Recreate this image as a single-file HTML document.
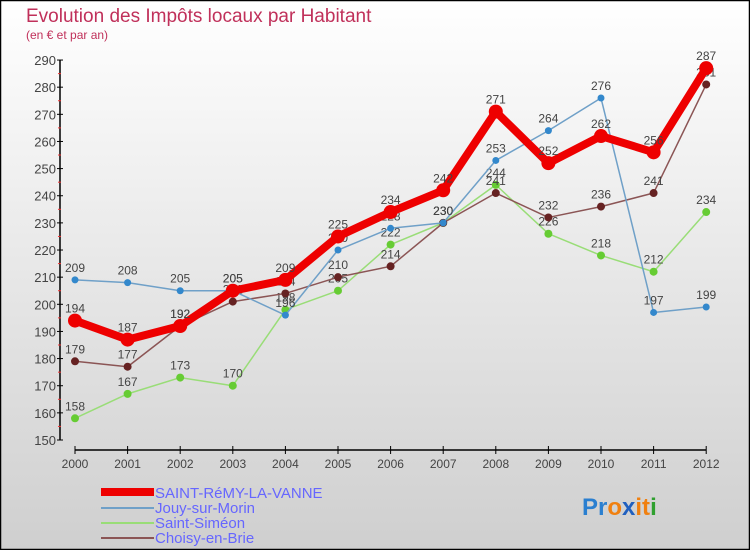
<!DOCTYPE html>
<html><head><meta charset="utf-8"><style>
body{margin:0}
#c{width:750px;height:550px;position:relative;overflow:hidden;font-family:"Liberation Sans",sans-serif}
</style></head><body>
<div id="c">
<svg id="s" width="750" height="550" xmlns="http://www.w3.org/2000/svg">
<defs><linearGradient id="bg" x1="0" y1="0" x2="0" y2="1"><stop offset="0" stop-color="#ffffff"/><stop offset="1" stop-color="#cfcfcf"/></linearGradient></defs>
<rect x="0.5" y="0.5" width="749" height="549" fill="url(#bg)" stroke="#000" stroke-width="1.5"/>
<text x="26" y="22" font-size="19" fill="#c0305a">Evolution des Impôts locaux par Habitant</text>
<text x="26" y="39" font-size="12" fill="#c0305a">(en € et par an)</text>
<g id="axes"></g><g id="series"></g>
<g>
<rect x="101" y="488" width="53" height="8" fill="#e00"/>
<text x="155" y="498" font-size="15" fill="#6666ff">SAINT-RéMY-LA-VANNE</text>
<line x1="101" y1="508" x2="154" y2="508" stroke="#6fa0c8" stroke-width="2"/>
<text x="155" y="513" font-size="15" fill="#6666ff">Jouy-sur-Morin</text>
<line x1="101" y1="523" x2="154" y2="523" stroke="#99dd77" stroke-width="2"/>
<text x="155" y="528" font-size="15" fill="#6666ff">Saint-Siméon</text>
<line x1="101" y1="538" x2="154" y2="538" stroke="#8b5555" stroke-width="2"/>
<text x="155" y="543" font-size="15" fill="#6666ff">Choisy-en-Brie</text>
</g>
<text x="582" y="515" font-size="24" font-weight="bold"><tspan fill="#2a7fd0">Pr</tspan><tspan fill="#f08010">o</tspan><tspan fill="#2060c0">x</tspan><tspan fill="#f08010">it</tspan><tspan fill="#30a030">i</tspan></text>
</svg></div>
<script>
const years=[2000,2001,2002,2003,2004,2005,2006,2007,2008,2009,2010,2011,2012];
const yTicks=[150,160,170,180,190,200,210,220,230,240,250,260,270,280,290];
const saintRemy=[194,187,192,205,209,225,234,242,271,252,262,256,287];
const jouy=[209,208,205,205,196,220,228,230,253,264,276,197,199];
const saintSimeon=[158,167,173,170,198,205,222,230,244,226,218,212,234];
const choisy=[179,177,192,201,204,210,214,230,241,232,236,241,281];
const NS="http://www.w3.org/2000/svg";
const X=i=>75+i*52.6;
const Y=v=>440-(v-150)*2.714;
function mk(t,a,p){const e=document.createElementNS(NS,t);for(const k in a)e.setAttribute(k,a[k]);p.appendChild(e);return e;}
const ax=document.getElementById('axes');
let e=mk('line',{x1:60,y1:Y(290),x2:60,y2:Y(150),stroke:'#000','stroke-width':1.5},ax);


e=mk('line',{x1:X(0),y1:450,x2:X(12),y2:450,stroke:'#000','stroke-width':1.5},ax);


yTicks.forEach((v,i)=>{
 mk('line',{x1:57,y1:Y(v),x2:63,y2:Y(v),stroke:'#000'},ax);
 if(i<yTicks.length-1)mk('line',{x1:58,y1:Y(v+5),x2:61,y2:Y(v+5),stroke:'#e33'},ax);
 const t=mk('text',{x:56,y:Y(v)+5,'font-size':13,'text-anchor':'end',fill:'#444'},ax);t.textContent=v;
 
 
});
years.forEach((y,i)=>{
 mk('line',{x1:X(i),y1:446,x2:X(i),y2:454,stroke:'#000'},ax);
 const t=mk('text',{x:X(i),y:468,'font-size':12,'text-anchor':'middle',fill:'#444'},ax);t.textContent=y;
 
 
});
const sg=document.getElementById('series');
function draw(data,color,dot,w,r,name){
 const g=mk('g',{},sg);
 
 
 mk('polyline',{points:data.map((v,i)=>X(i)+','+Y(v)).join(' '),fill:'none',stroke:color,'stroke-width':w,'stroke-linejoin':'round'},g);
 data.forEach((v,i)=>{
  const c=mk('circle',{cx:X(i),cy:Y(v),r:r,fill:dot},g);
  
  
  const t=mk('text',{x:X(i),y:Y(v)-8,'font-size':12,'text-anchor':'middle',fill:'#444'},g);t.textContent=v;
 });
}
draw(saintSimeon,'#99dd77','#66cc33',1.5,4,'series-saint-simeon');
draw(choisy,'#8b5555','#662222',1.5,4,'series-choisy');
draw(jouy,'#6fa0c8','#3388cc',1.5,3.5,'series-jouy');
draw(saintRemy,'#ee0000','#ee0000',8,7,'series-saint-remy');
</script>
</body></html>
